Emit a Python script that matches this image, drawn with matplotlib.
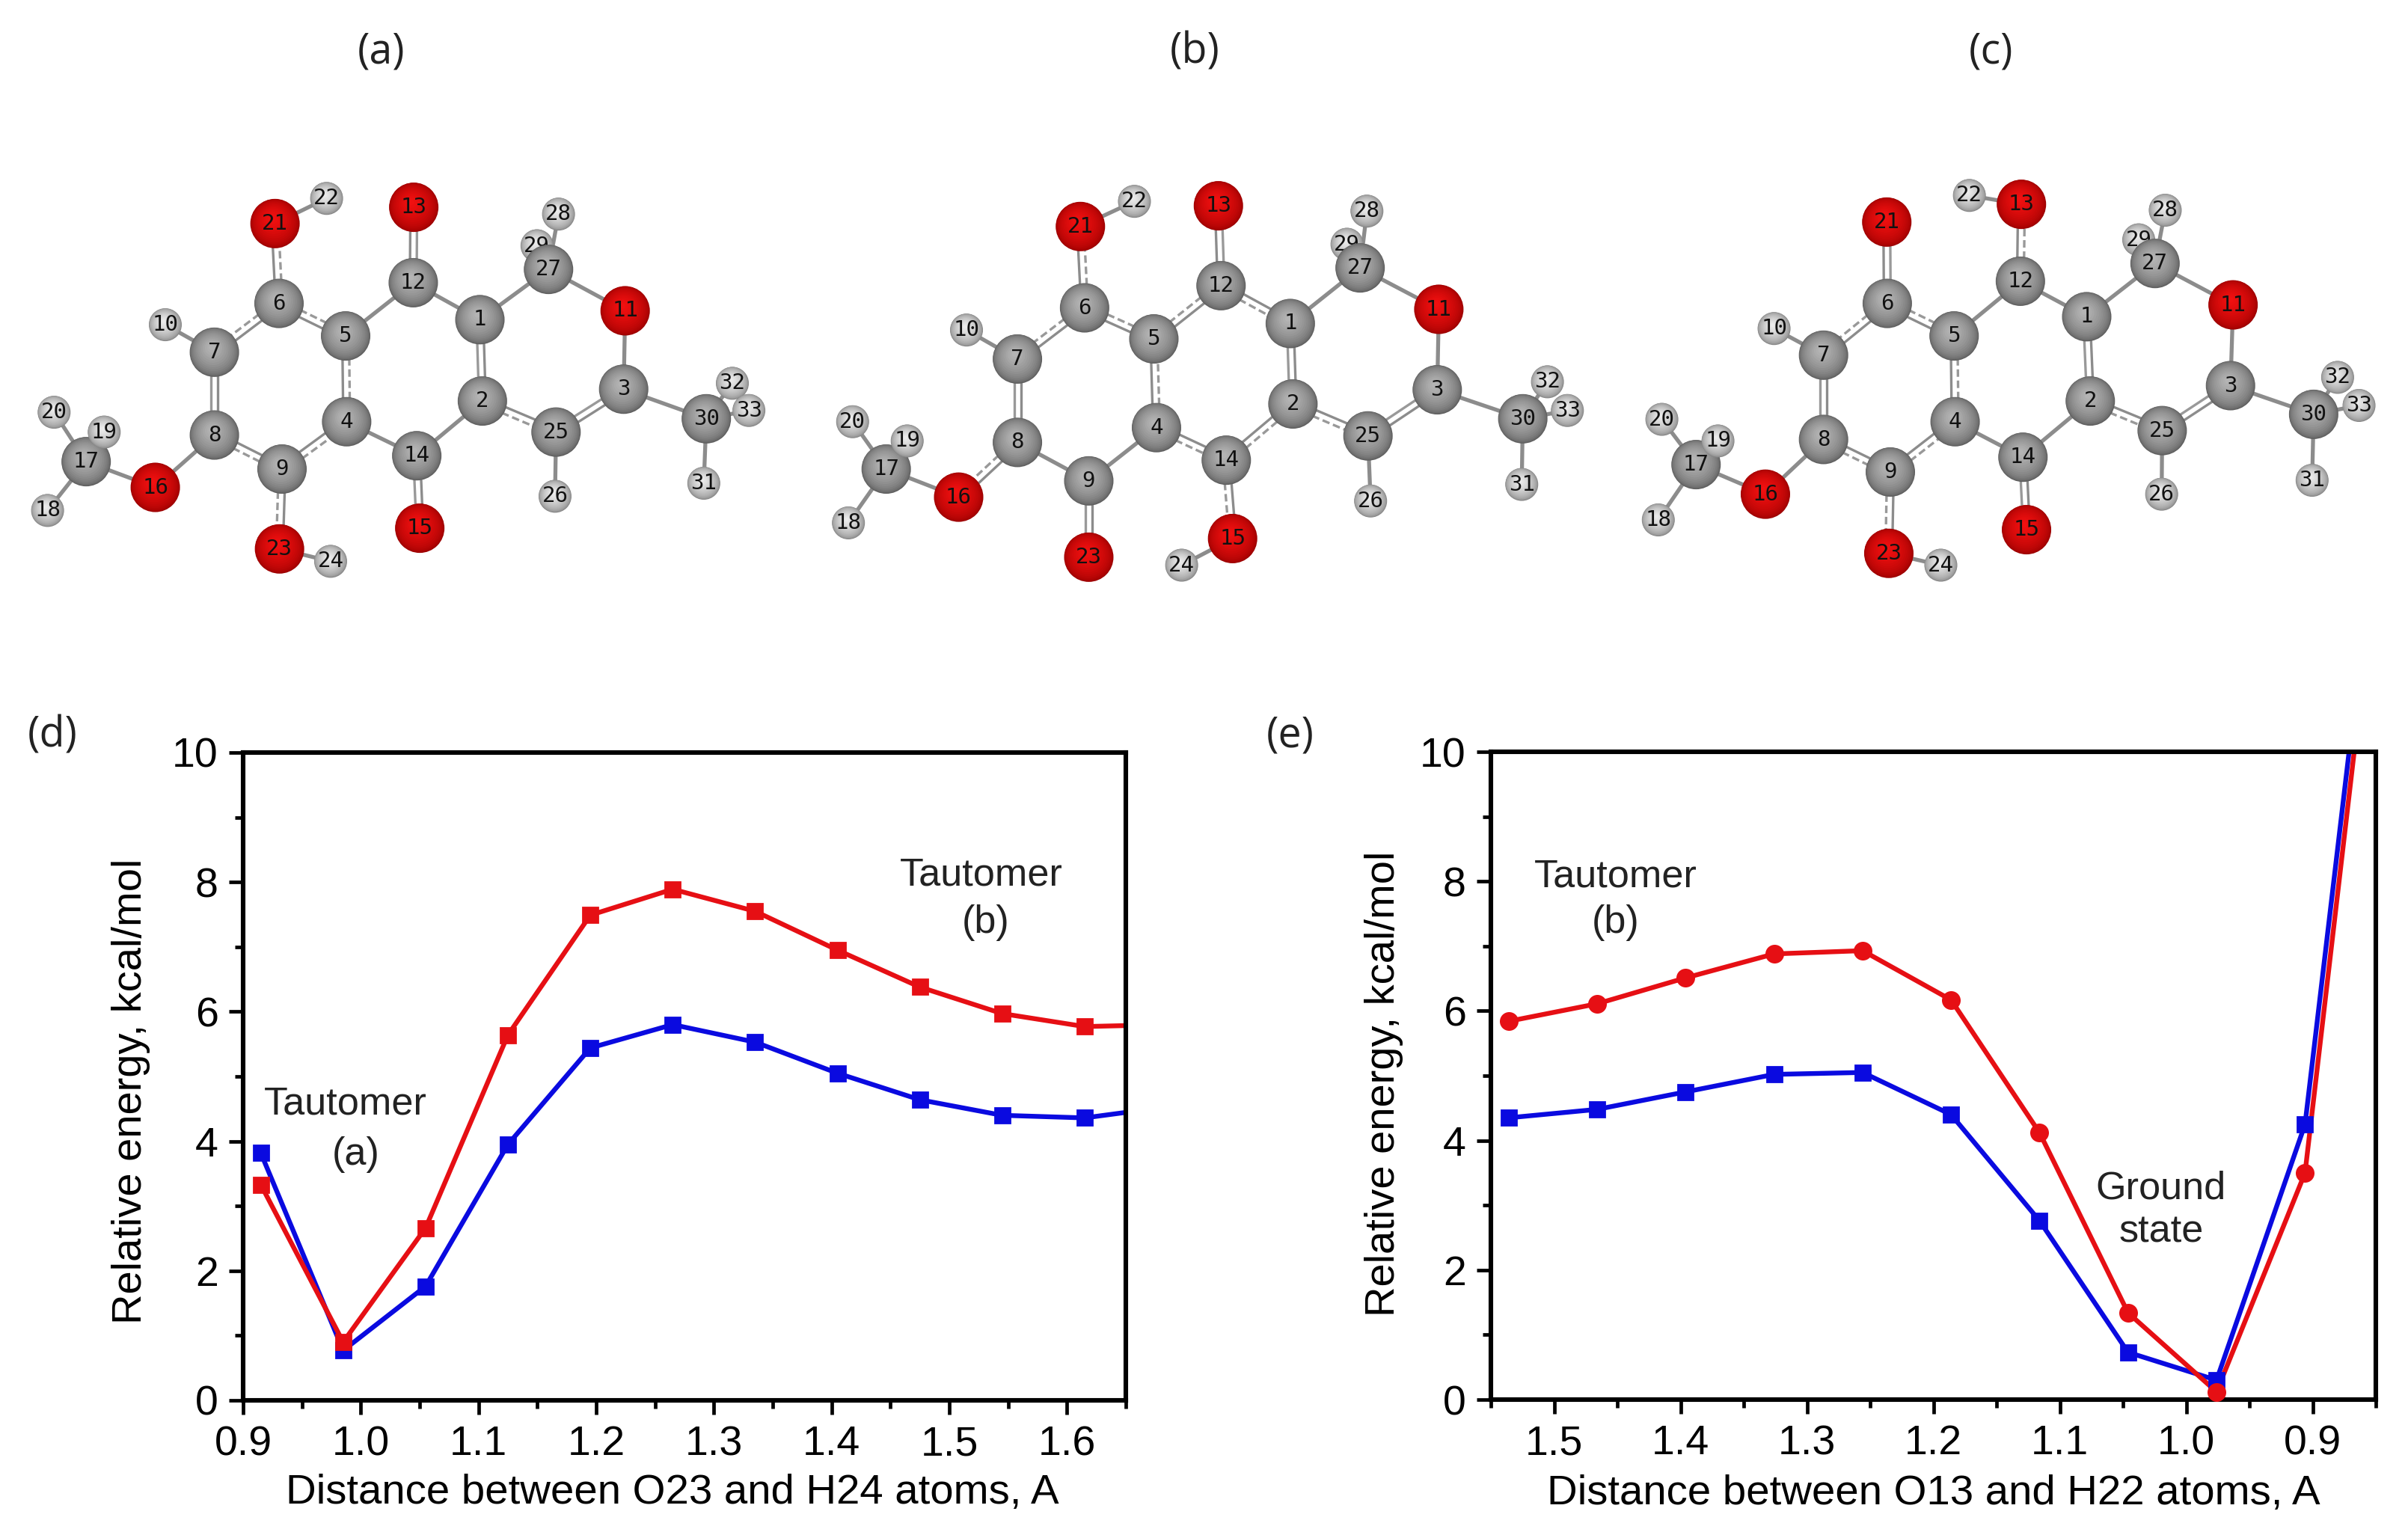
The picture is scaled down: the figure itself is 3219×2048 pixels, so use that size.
import numpy as np
import matplotlib
matplotlib.use("Agg")
import matplotlib.pyplot as plt
from matplotlib.patches import Circle
from matplotlib.colors import to_rgb

plt.rcParams['font.family'] = ['Liberation Sans', 'DejaVu Sans']

W, H, DPI = 3219, 2048, 200

# --- curves ---
d_x = [0.915, 0.985, 1.055, 1.125, 1.195, 1.265, 1.335, 1.405, 1.475, 1.545, 1.615, 1.685]
d_blue = [3.82, 0.77, 1.76, 3.95, 5.44, 5.80, 5.53, 5.05, 4.64, 4.40, 4.36, 4.53]
d_red = [3.33, 0.90, 2.66, 5.64, 7.49, 7.89, 7.55, 6.95, 6.38, 5.97, 5.77, 5.80]

e_x = [1.536, 1.466, 1.396, 1.326, 1.256, 1.186, 1.116, 1.046, 0.976, 0.906, 0.836]
e_blue = [4.35, 4.48, 4.75, 5.02, 5.05, 4.40, 2.76, 0.73, 0.30, 4.25, 15.8]
e_red = [5.84, 6.11, 6.51, 6.88, 6.93, 6.17, 4.12, 1.34, 0.12, 3.50, 15.2]

d_xticks = [0.9, 1.0, 1.1, 1.2, 1.3, 1.4, 1.5, 1.6]
e_xticks = [1.5, 1.4, 1.3, 1.2, 1.1, 1.0, 0.9]
y_ticks = [0, 2, 4, 6, 8, 10]

# --- molecules: atom positions ---
atom_ids = [1, 2, 3, 4, 5, 6, 7, 8, 9, 10, 11, 12, 13, 14, 15, 16, 17,
            18, 19, 20, 21, 22, 23, 24, 25, 26, 27, 28, 29, 30, 31, 32, 33]
oxygens = [11, 13, 15, 16, 21, 23]
hydrogens = [10, 18, 19, 20, 22, 24, 26, 28, 29, 31, 32, 33]
back_atoms = [29, 32, 33]

mol_a_xy = [(958, 575), (963, 850), (1245, 810), (692, 920), (690, 630), (557, 520), (428, 685),
            (428, 965), (563, 1080), (330, 592), (1248, 545), (825, 450), (826, 195), (832, 1035),
            (838, 1280), (310, 1142), (172, 1055), (95, 1220), (208, 955), (108, 888), (549, 250),
            (652, 165), (558, 1350), (660, 1392), (1110, 955), (1108, 1172), (1095, 405), (1115, 218),
            (1072, 325), (1410, 910), (1405, 1128), (1462, 790), (1495, 882)]
mol_b_xy = [(962, 588), (967, 860), (1242, 812), (707, 940), (702, 640), (570, 535), (442, 708),
            (442, 990), (578, 1120), (345, 610), (1245, 540), (830, 460), (825, 190), (840, 1050),
            (852, 1315), (330, 1175), (192, 1080), (120, 1262), (232, 985), (128, 920), (562, 260),
            (665, 175), (578, 1378), (755, 1405), (1110, 968), (1115, 1188), (1095, 400), (1108, 208),
            (1070, 320), (1405, 910), (1403, 1132), (1452, 785), (1490, 882)]
mol_c_xy = [(938, 565), (945, 850), (1220, 798), (680, 920), (678, 630), (547, 520), (422, 695),
            (422, 980), (553, 1090), (325, 605), (1225, 525), (808, 445), (810, 185), (813, 1040),
            (820, 1285), (308, 1165), (172, 1065), (98, 1252), (215, 985), (105, 912), (546, 245),
            (708, 155), (550, 1365), (652, 1405), (1086, 950), (1085, 1165), (1072, 385), (1092, 205),
            (1040, 305), (1383, 895), (1380, 1118), (1430, 770), (1472, 865)]

common_single = [(1, 27), (27, 11), (11, 3), (3, 30), (30, 31), (30, 32), (30, 33), (25, 26),
                 (27, 28), (27, 29), (7, 10), (17, 18), (17, 19), (17, 20), (16, 17)]
common_double = [(1, 2), (3, 25), (7, 8)]
common_dashed = [(2, 25), (5, 6), (6, 7), (4, 5)]

mol_a_single = [(1, 12), (12, 5), (2, 14), (14, 4), (8, 16), (21, 22), (23, 24)]
mol_a_double = [(12, 13), (14, 15)]
mol_a_dashed = [(8, 9), (9, 4), (6, 21), (9, 23)]

mol_b_single = [(8, 9), (9, 4), (21, 22), (15, 24)]
mol_b_double = [(12, 13), (9, 23)]
mol_b_dashed = [(12, 5), (12, 1), (8, 16), (4, 14), (14, 2), (14, 15), (6, 21)]

mol_c_single = [(12, 1), (12, 5), (14, 4), (14, 2), (8, 16), (13, 22), (23, 24)]
mol_c_double = [(14, 15), (6, 21)]
mol_c_dashed = [(12, 13), (8, 9), (9, 4), (9, 23)]


def shade(ax, x, y, r, outer, inner, z):
    # fake sphere: stacked circles shifted to the light
    outer, inner = np.array(to_rgb(outer)), np.array(to_rgb(inner))
    for t in np.linspace(0, 1, 14):
        ax.add_patch(Circle((x - 0.1 * r * t, y - 0.2 * r * t), r * (1 - 0.88 * t ** 1.4), lw=0,
                            fc=outer + (inner - outer) * t ** 0.7, zorder=z))


def draw_molecule(ax, xy, crop, single, double, dashed):
    x0, y0, cw, ch = crop
    pos = {i: (x0 + p[0] * cw / 1568, y0 + p[1] * ch / 1568) for i, p in zip(atom_ids, xy)}

    for a, b in single + common_single:
        ax.plot(*zip(pos[a], pos[b]), color='#8c8c8c', lw=1.9, zorder=2, solid_capstyle='butt')
    for pairs, broken in ((double + common_double, False), (dashed + common_dashed, True)):
        for a, b in pairs:
            p, q = np.array(pos[a]), np.array(pos[b])
            n = np.array([q[1] - p[1], p[0] - q[0]])
            n = n / np.hypot(*n) * 4.5
            ax.plot(*zip(p + n, q + n), color='#8c8c8c', lw=1.2, zorder=2)
            ax.plot(*zip(p - n, q - n), color='#999999', lw=1.2, zorder=2,
                    ls=(0, (3, 1.5)) if broken else '-')

    order = back_atoms + [i for i in atom_ids if i not in back_atoms]
    for k, i in enumerate(order):
        z = 3 + k
        x, y = pos[i]
        if i in oxygens:
            shade(ax, x, y, 33, '#9c0000', '#f01010', z)
        elif i in hydrogens:
            shade(ax, x, y, 22, '#858585', '#ebebeb', z)
        else:
            shade(ax, x, y, 33, '#5e5e5e', '#b4b4b4', z)
        ax.text(x, y, str(i), family='DejaVu Sans Mono', fontsize=10.5, color='#111111',
                ha='center', va='center', zorder=z)


def draw_panel(left, top, right, bottom, x, blue, red, xlim, xticks, red_marker):
    ax = fig.add_axes([left / W, 1 - bottom / H, (right - left) / W, (bottom - top) / H])
    x = np.array(x)
    keep = (x >= min(xlim)) & (x <= max(xlim))
    for vals, col, mk in ((blue, '#0a0ae0', 's'), (red, '#e60f14', red_marker)):
        vals = np.array(vals)
        ax.plot(x, vals, color=col, lw=2.3)
        ax.plot(x[keep], vals[keep], ls='none', marker=mk, ms=7 if mk == 's' else 8, color=col,
                clip_on=False, zorder=5)
    ax.set_xticks(xticks)
    ax.set_xticklabels([f'{t:.1f}' for t in xticks])
    ax.set_yticks(y_ticks)
    minor = np.arange(0.85, 1.7, 0.1)
    ax.set_xticks(minor[(minor >= min(xlim)) & (minor <= max(xlim))], minor=True)
    ax.set_yticks([1, 3, 5, 7, 9], minor=True)
    ax.set_xlim(*xlim)
    ax.set_ylim(0, 10)
    ax.tick_params(which='major', length=7, width=1.7, labelsize=20, pad=5)
    ax.tick_params(which='minor', length=4, width=1.7)
    for s in ax.spines.values():
        s.set_linewidth(2.2)
    return ax


fig = plt.figure(figsize=(W / DPI, H / DPI), dpi=DPI)

ax_d = draw_panel(325, 1006, 1505, 1872, d_x, d_blue, d_red, (0.9, 1.65), d_xticks, 's')
ax_d.set_xlabel('Distance between O23 and H24 atoms, A', fontsize=20.3, va='center')
ax_d.xaxis.set_label_coords(0.486, -0.143)
ax_d.set_ylabel('Relative energy, kcal/mol', fontsize=20.2, va='center')
ax_d.yaxis.set_label_coords(-0.127, 0.477)

ax_e = draw_panel(1993, 1005, 3176, 1871, e_x, e_blue, e_red, (1.55, 0.85), e_xticks, 'o')
ax_e.set_xlabel('Distance between O13 and H22 atoms, A', fontsize=20.3, va='center')
ax_e.xaxis.set_label_coords(0.50, -0.145)
ax_e.set_ylabel('Relative energy, kcal/mol', fontsize=20.2, va='center')
ax_e.yaxis.set_label_coords(-0.121, 0.487)

# overlay in image pixels for the molecules and free text
top = fig.add_axes([0, 0, 1, 1], zorder=10)
top.set_xlim(0, W)
top.set_ylim(H, 0)
top.axis('off')
top.patch.set_alpha(0)

draw_molecule(top, mol_a_xy, (0, 200, 1050, 620), mol_a_single, mol_a_double, mol_a_dashed)
draw_molecule(top, mol_b_xy, (1050, 200, 1100, 620), mol_b_single, mol_b_double, mol_b_dashed)
draw_molecule(top, mol_c_xy, (2150, 200, 1069, 620), mol_c_single, mol_c_double, mol_c_dashed)

for s, px, py in (('(a)', 510, 70), ('(b)', 1597, 70), ('(c)', 2661, 70), ('(d)', 70, 984), ('(e)', 1725, 984)):
    top.text(px, py, s, family='Open Sans', fontsize=20, ha='center', va='center', color='#222222')

for s, px, py in (('Tautomer', 462, 1476), ('(a)', 476, 1543), ('Tautomer', 1312, 1170), ('(b)', 1318, 1234),
                  ('Tautomer', 2160, 1172), ('(b)', 2160, 1234), ('Ground', 2889, 1589), ('state', 2889, 1647)):
    top.text(px, py, s, fontsize=18.8, ha='center', va='center', color='#222222')

fig.savefig('out.png', dpi=DPI)
